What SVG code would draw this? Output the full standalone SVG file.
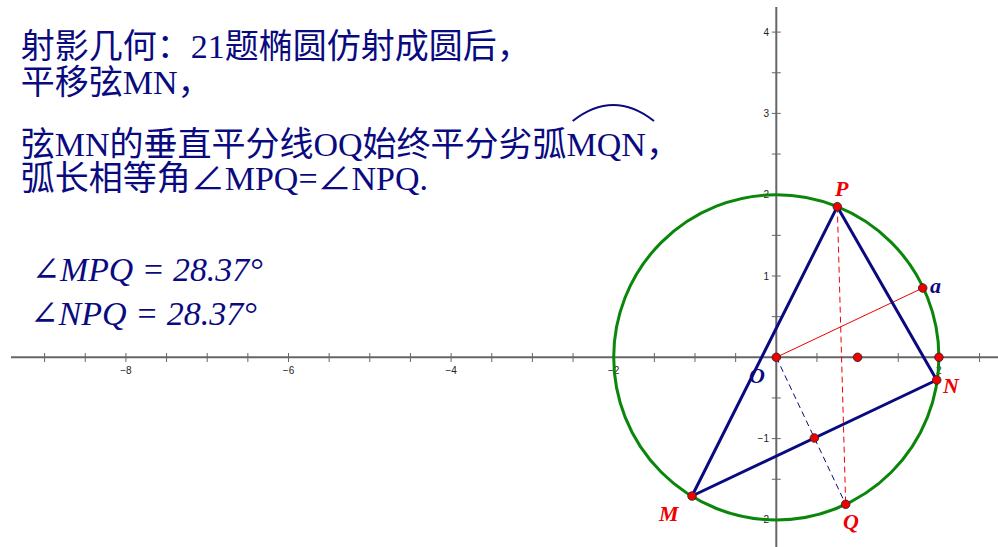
<svg xmlns="http://www.w3.org/2000/svg" width="998" height="547" viewBox="0 0 998 547">
<style>
.ax{stroke:#666;stroke-width:2;fill:none}
.tk{stroke:#666;stroke-width:1;fill:none}
.tl{font-family:"Liberation Sans",Arial,sans-serif;font-size:10px;fill:#222}
.txt{font-family:"Liberation Serif","Noto Sans CJK SC",serif;font-size:34px;fill:#0a0a80}
.ang{font-family:"Liberation Serif","DejaVu Serif",serif;font-style:italic;font-size:34px;fill:#0a0a80}
.seg{stroke:#0a0a80;stroke-width:3;fill:none;stroke-linecap:round}
.pt{fill:#f00000;stroke:#222;stroke-width:0.8}
.lbr{font-family:"Liberation Serif",serif;font-style:italic;font-weight:bold;font-size:22px;fill:#f00000}
.lbb{font-family:"Liberation Serif",serif;font-style:italic;font-weight:bold;font-size:22px;fill:#0a0a80}
</style>
<rect width="998" height="547" fill="#fff"/>
<g id="axes">
<line class="ax" x1="11" y1="357.3" x2="998" y2="357.3"/>
<line class="ax" x1="776.3" y1="7" x2="776.3" y2="547"/>
<path class="tk" d="M44.6,353V362M85.25,353V362M125.9,353V362M166.55,353V362M207.2,353V362M247.85,353V362M288.5,353V362M329.15,353V362M369.8,353V362M410.45,353V362M451.1,353V362M491.75,353V362M532.4,353V362M573.05,353V362M613.7,353V362M654.35,353V362M695,353V362M735.65,353V362M816.95,353V362M857.6,353V362M898.25,353V362M938.9,353V362M979.55,353V362"/>
<path class="tk" d="M771.8,32.1H780.8M771.8,72.75H780.8M771.8,113.4H780.8M771.8,154.05H780.8M771.8,194.7H780.8M771.8,235.35H780.8M771.8,276H780.8M771.8,316.65H780.8M771.8,397.95H780.8M771.8,438.6H780.8M771.8,479.25H780.8M771.8,519.9H780.8"/>
<g class="tl" text-anchor="middle">
<text x="125.9" y="374">−8</text>
<text x="288.5" y="374">−6</text>
<text x="451.1" y="374">−4</text>
<text x="613.7" y="374">−2</text>
<text x="938.9" y="374">2</text>
</g>
<g class="tl" text-anchor="end">
<text x="769" y="35.6">4</text>
<text x="769" y="116.9">3</text>
<text x="769" y="198.2">2</text>
<text x="769" y="279.5">1</text>
<text x="769" y="441.5">−1</text>
<text x="769" y="523.4">−2</text>
</g>
</g>
<g id="circle">
<circle cx="776.3" cy="357.3" r="162.6" fill="none" stroke="#0a870a" stroke-width="3"/>
</g>
<g id="connectors">
<line x1="776.3" y1="357.3" x2="922.7" y2="288" stroke="#f00000" stroke-width="1"/>
<line x1="837.3" y1="206.7" x2="845.7" y2="504.3" stroke="#f00000" stroke-width="1" stroke-dasharray="6,4"/>
<line x1="776.3" y1="357.3" x2="845.7" y2="504.3" stroke="#0a0a80" stroke-width="1" stroke-dasharray="6,4"/>
<line class="seg" x1="837.3" y1="206.7" x2="692" y2="496"/>
<line class="seg" x1="837.3" y1="206.7" x2="936.7" y2="380"/>
<line class="seg" x1="692" y1="496" x2="936.7" y2="380"/>
</g>
<g id="point-P"><circle class="pt" cx="837.3" cy="206.7" r="4.3"/><text class="lbr" x="835" y="196">P</text></g>
<g id="point-a"><circle class="pt" cx="922.7" cy="288" r="4.3"/><text class="lbb" x="930" y="293">a</text></g>
<g id="point-O"><circle class="pt" cx="776.3" cy="357.3" r="4.3"/><text class="lbb" x="749" y="383">O</text></g>
<g id="point-x1"><circle class="pt" cx="857.6" cy="357.3" r="4.3"/></g>
<g id="point-x2"><circle class="pt" cx="938.9" cy="357.3" r="4.3"/></g>
<g id="point-N"><circle class="pt" cx="936.7" cy="380" r="4.3"/><text class="lbr" x="943" y="393">N</text></g>
<g id="point-M"><circle class="pt" cx="692" cy="496" r="4.3"/><text class="lbr" x="659" y="521">M</text></g>
<g id="point-Q"><circle class="pt" cx="845.7" cy="504.3" r="4.3"/><text class="lbr" x="843" y="529">Q</text></g>
<g id="point-mid"><circle class="pt" cx="814.35" cy="438" r="4.3"/></g>
<g id="title">
<text class="txt" x="20.7" y="57.5">射影几何：21题椭圆仿射成圆后，</text>
<text class="txt" x="20.7" y="94">平移弦MN，</text>
<text class="txt" x="20.7" y="156">弦MN的垂直平分线OQ始终平分劣弧MQN，</text>
<path d="M572.7,121 Q613.3,89 654,121" fill="none" stroke="#0a0a80" stroke-width="2"/>
<text class="txt" x="20.7" y="190">弧长相等角∠MPQ=∠NPQ.</text>
</g>
<g id="angles">
<text class="ang" x="31.7" y="281" textLength="231" lengthAdjust="spacingAndGlyphs">∠MPQ = 28.37°</text>
<text class="ang" x="30" y="325" textLength="227" lengthAdjust="spacingAndGlyphs">∠NPQ = 28.37°</text>
</g>
</svg>
